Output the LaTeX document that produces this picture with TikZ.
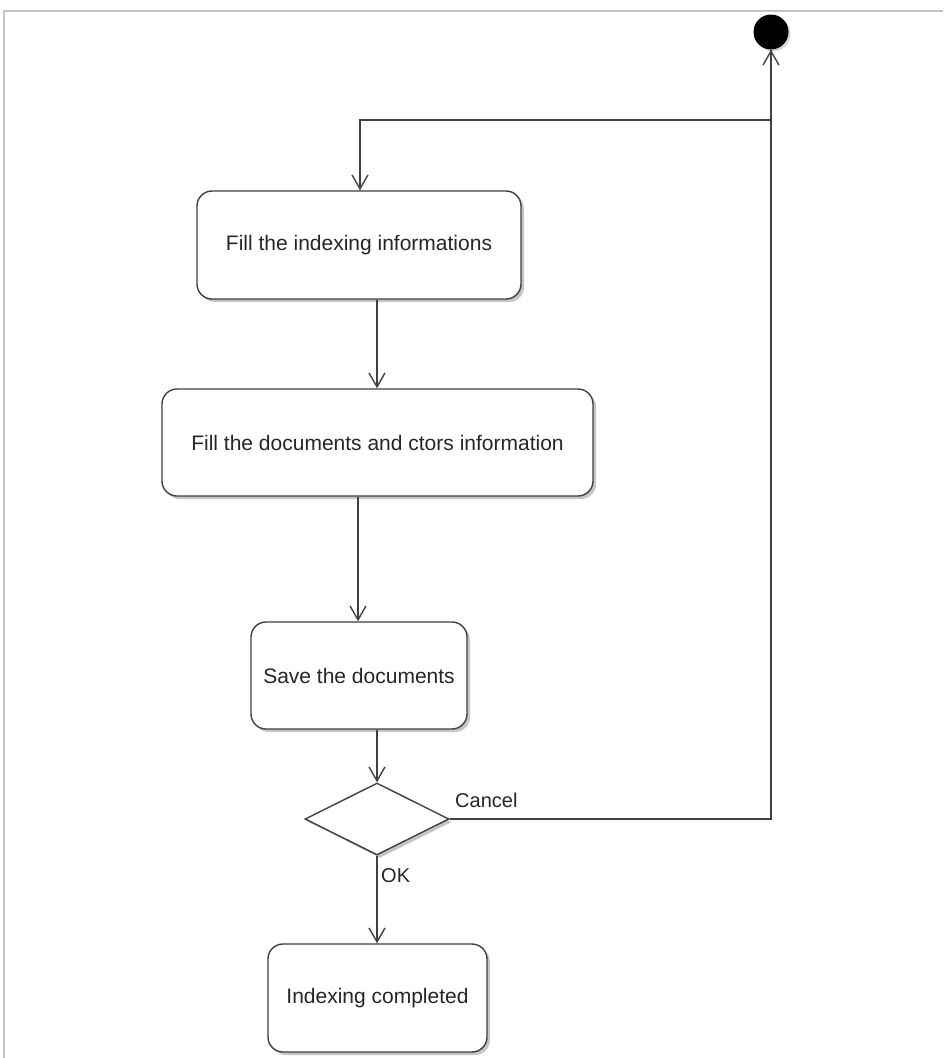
\documentclass[tikz,border=0pt]{standalone}
\usepackage{fontspec}
\setmainfont{Liberation Sans}
\usetikzlibrary{arrows.meta,shapes.geometric,shadows}
\definecolor{linecol}{HTML}{404040}
\definecolor{textcol}{HTML}{262626}
\definecolor{framecol}{HTML}{C4C4C4}
\begin{document}
\begin{tikzpicture}[x=1pt,y=-1pt,
  boxshadow/.style={drop shadow={shadow xshift=3pt,shadow yshift=-3pt,opacity=0.45,fill=gray}},
  action/.style={draw=linecol,line width=1.4pt,rounded corners=15pt,fill=white,
    boxshadow,font=\fontsize{21}{25}\selectfont,text=textcol,inner sep=0pt},
  decision/.style={diamond,draw=linecol,line width=1.4pt,fill=white,boxshadow,
    shape aspect=2,minimum width=144pt,minimum height=72pt,inner sep=0pt},
  startnode/.style={circle,fill=black,minimum size=35pt,inner sep=0pt,
    drop shadow={shadow xshift=2pt,shadow yshift=-2pt,opacity=0.3,fill=gray}},
  flow/.style={draw=linecol,line width=1.4pt,-{Straight Barb[length=14pt,width=16pt,line width=1.4pt]}},
  lbl/.style={font=\fontsize{20}{24}\selectfont,text=textcol,inner sep=0pt,anchor=west}
]
\useasboundingbox (0,0) rectangle (943,1058);
\fill[white] (0,0) rectangle (943,1058);
% outer frame
\draw[framecol,line width=1.2pt] (943,11) -- (4,11) -- (4,1058);

% nodes
\node[startnode] (start) at (771,32) {};
\node[action,minimum width=324pt,minimum height=108pt] (fill1) at (359,245) {Fill the indexing informations};
\node[action,minimum width=431pt,minimum height=107pt] (fill2) at (377.5,442.5) {Fill the documents and ctors information};
\node[action,minimum width=216pt,minimum height=107pt] (save) at (359,675.5) {Save the documents};
\node[decision] (dec) at (377,819) {};
\node[action,minimum width=219pt,minimum height=108pt] (done) at (377.5,998) {Indexing completed};

% bend points
\coordinate (cr) at (771,819);
\coordinate (tr) at (771,120);
\coordinate (tl) at (360,120);

% connectors
\draw[flow] (start.south) -- (tr) -- (tl) -- (fill1.north -| tl);
\draw[flow] (fill1.south -| 377,0) -- (fill2.north -| 377,0);
\draw[flow] (fill2.south -| 358,0) -- (save.north -| 358,0);
\draw[flow] (save.south -| 377,0) -- (dec.north);
\draw[flow] (dec.east) -- (cr) -- (start.south);
\draw[flow] (dec.south) -- (done.north -| dec.south);

% guard labels
\node[lbl] (lcancel) at (455,800) {Cancel};
\node[lbl] (lok) at (381,876) {OK};
\end{tikzpicture}
\end{document}
